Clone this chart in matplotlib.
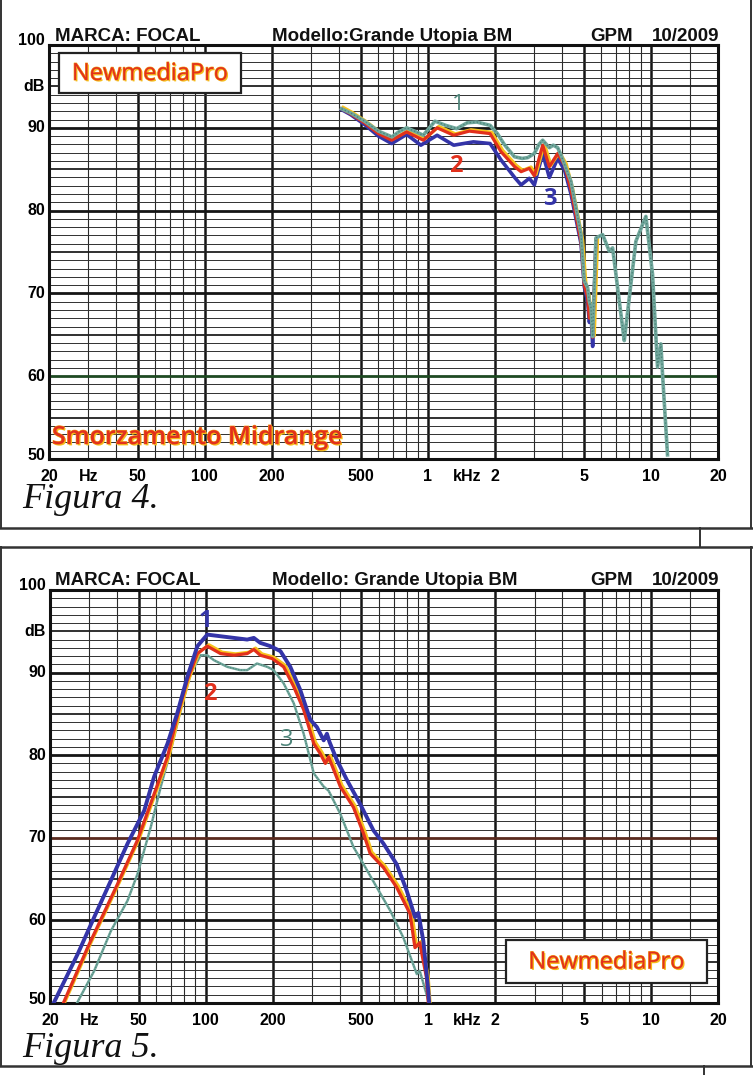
import numpy as np
import matplotlib
matplotlib.use('Agg')
import matplotlib.pyplot as plt
from matplotlib import patheffects as pe
from matplotlib.lines import Line2D
from matplotlib.patches import Rectangle

W, H = 753, 1075

# ---------------- data: Figura 4 (Smorzamento Midrange) ----------------
f4_freq_1 = [410, 450, 520, 600, 690, 740, 803, 870, 954, 1076, 1200, 1346, 1500, 1655, 1901,
             2050, 2200, 2444, 2650, 2804, 3003, 3150, 3272, 3400, 3505, 3650, 3820, 3954,
             4384, 4861, 5029, 5204, 5300, 5387, 5482, 5673, 6076, 6507, 6735, 7468, 7598,
             8567, 9497, 10175, 10713, 11087, 11277, 11875]
f4_db_1 = [92.3, 91.8, 90.8, 89.6, 88.9, 89.5, 90.0, 89.6, 89.1, 90.8, 90.3, 89.9, 90.6, 90.7, 90.3,
           89.3, 88.0, 86.5, 86.3, 86.4, 86.9, 88.0, 88.5, 88.0, 87.6, 87.9, 87.6, 86.7,
           83.5, 77.1, 71.5, 70.7, 69.0, 68.3, 64.8, 76.7, 77.1, 75.1, 75.5, 65.9, 64.3,
           76.3, 79.3, 72.3, 61.1, 63.9, 60.3, 50.5]

f4_freq_2 = [410, 450, 520, 600, 688, 803, 954, 1100, 1306, 1533, 1901, 2130, 2450, 2618, 2850,
             3003, 3272, 3505, 3820, 4100, 4384, 4861, 5029, 5204, 5300, 5387, 5482, 5673]
f4_db_2 = [92.3, 91.7, 90.6, 89.3, 88.5, 89.5, 88.5, 90.0, 89.1, 89.6, 89.3, 87.1, 85.3, 84.7, 85.1,
           84.2, 87.9, 85.3, 86.9, 85.5, 82.5, 76.3, 71.0, 69.5, 67.0, 68.5, 64.7, 76.5]

f4_freq_3 = [410, 450, 520, 600, 688, 803, 930, 1100, 1306, 1600, 1901, 2130, 2450, 2618, 2850,
             3003, 3272, 3505, 3820, 4100, 4384, 4861, 5029, 5204, 5300, 5387, 5482, 5673]
f4_db_3 = [92.2, 91.6, 90.4, 89.0, 88.1, 89.2, 87.9, 89.1, 87.9, 88.3, 88.1, 86.1, 84.0, 83.1, 83.9,
           83.1, 86.9, 84.0, 86.3, 84.9, 82.0, 76.0, 70.8, 69.0, 66.5, 68.0, 63.6, 76.4]

# ---------------- data: Figura 5 ----------------
f5_freq_1 = [20.6, 26.6, 31.6, 37.5, 44.6, 53, 58.7, 67.4, 74.6, 82.8, 91.8, 101.7, 116.7, 134,
             153.7, 164.6, 176, 195.4, 216.7, 240, 266, 295, 316, 339, 350.5, 360, 388.8, 431,
             494, 567, 629, 721, 800, 871, 902, 950, 1000, 1010]
f5_db_1 = [49.8, 55.9, 60.4, 64.8, 69.3, 73.3, 77.4, 81.4, 85.1, 89.5, 93.2, 94.6, 94.4, 94.2,
           94.0, 94.2, 93.6, 93.2, 92.6, 90.7, 87.9, 84.3, 83.4, 81.8, 82.6, 81.6, 79.4, 77.0,
           74.1, 70.9, 69.3, 66.8, 63.6, 60.4, 60.9, 57.5, 51.5, 49.8]

f5_freq_2 = [22.8, 29.5, 40.2, 49.4, 58.7, 67.4, 74.6, 82.8, 91.8, 101.7, 116.7, 134, 153.7, 164.6,
             176, 199, 224, 248.6, 275.6, 306, 327, 345, 356.6, 402.6, 461, 512, 548, 629, 721,
             828, 871, 915, 981, 1000]
f5_db_2 = [49.8, 56.7, 64.4, 69.7, 75.3, 79.8, 84.7, 89.1, 92.3, 93.2, 92.3, 92.1, 92.3, 92.8,
           92.1, 91.7, 90.7, 88.3, 85.5, 81.4, 80.2, 79.0, 79.8, 76.2, 73.7, 70.5, 68.1, 66.4, 64.0,
           60.8, 56.7, 57.3, 53.1, 50.0]

f5_freq_3 = [26.2, 31.6, 37.5, 44.6, 49.4, 56.7, 62.9, 69.7, 77.3, 85.7, 95, 101.7, 109, 125, 143,
             153.7, 170, 189, 202, 224, 248.6, 275.6, 306, 339, 356.6, 402.6, 461, 512, 587, 674,
             773, 888, 915, 981, 1010]
f5_db_3 = [49.8, 53.9, 58.7, 62.4, 65.6, 71.3, 76.2, 80.6, 85.5, 89.9, 92.1, 92.1, 91.5, 90.7, 90.3,
           90.3, 91.1, 90.7, 90.3, 88.7, 86.3, 82.6, 77.8, 76.2, 75.7, 72.9, 68.9, 66.8, 64.0, 61.2,
           57.9, 53.5, 53.9, 51.1, 49.8]

x_tick_freqs = [20, 30, 50, 100, 200, 500, 1000, 1500, 2000, 5000, 10000, 20000]
x_tick_labels = ['20', 'Hz', '50', '100', '200', '500', '1', 'kHz', '2', '5', '10', '20']
y_tick_vals = [100, 95, 90, 80, 70, 60, 50]
y_tick_labels = ['100', 'dB', '90', '80', '70', '60', '50']

thick_v = [50, 100, 200, 500, 1000, 2000, 5000, 10000]
thin_v = [30, 40, 60, 70, 80, 90, 300, 400, 600, 700, 800, 900,
          3000, 4000, 6000, 7000, 8000, 9000, 15000]

C_BLUE = '#3434a8'
C_RED = '#e2301c'
C_YEL = '#f7c21c'
C_TEAL = '#72a89d'
C_TEAL_D = '#4d8479'

SANS = ['Liberation Sans', 'DejaVu Sans']

fig = plt.figure(figsize=(W / 100, H / 100), dpi=100)
fig.patch.set_facecolor('white')


def fx(x):
    return x / W


def fy(y):
    return 1 - y / H


def make_axes(x0, y0, x1, y1, special_line=None):
    ax = fig.add_axes([fx(x0), fy(y1), fx(x1) - fx(x0), fy(y0) - fy(y1)])
    ax.set_xscale('log')
    ax.set_xlim(20, 20000)
    ax.set_ylim(50, 100)
    for v in thin_v:
        ax.axvline(v, color='#2a2a2a', lw=0.8, zorder=1)
    for v in thick_v:
        ax.axvline(v, color='#151515', lw=1.8, zorder=1)
    for d in range(51, 100):
        if d % 10 == 0:
            c = '#151515'
            if special_line and d == special_line[0]:
                c = special_line[1]
            ax.axhline(d, color=c, lw=2.0, zorder=1)
        elif d % 5 == 0:
            ax.axhline(d, color='#202020', lw=1.3, zorder=1)
        else:
            ax.axhline(d, color='#303030', lw=0.7, zorder=1)
    for s in ax.spines.values():
        s.set_linewidth(2.2)
        s.set_color('#111111')
    ax.xaxis.set_minor_locator(matplotlib.ticker.NullLocator())
    ax.set_xticks(x_tick_freqs)
    ax.set_xticklabels(x_tick_labels, fontsize=11.5, fontweight='bold', family=SANS)
    ax.tick_params(axis='x', length=0, pad=7)
    ax.set_yticks([])
    for v, lab in zip(y_tick_vals, y_tick_labels):
        yy = v
        if v == 100:
            yy = 100.5
        elif v == 50:
            yy = 50.4
        ax.text(-0.006, yy, lab, transform=ax.get_yaxis_transform(), ha='right', va='center',
                fontsize=11.5, fontweight='bold', family=SANS, clip_on=False)
    return ax


def header(ybase, model):
    kw = dict(fontsize=13.5, fontweight='bold', family=SANS, va='baseline', color='#111111')
    fig.text(fx(55), fy(ybase), 'MARCA: FOCAL', ha='left', **kw)
    fig.text(fx(272), fy(ybase), model, ha='left', **kw)
    fig.text(fx(590), fy(ybase), 'GPM', ha='left', **kw)
    fig.text(fx(719), fy(ybase), '10/2009', ha='right', **kw)


TEXT_FX = [pe.withSimplePatchShadow(offset=(1.0, -1.0), shadow_rgbFace='#f6c01e', alpha=1.0),
           pe.Stroke(linewidth=0.8, foreground='#f3a21a'), pe.Normal()]


def logo(x0, y0, x1, y1):
    fig.patches.append(Rectangle((fx(x0), fy(y1)), fx(x1) - fx(x0), fy(y0) - fy(y1),
                                 transform=fig.transFigure, fc='white', ec='#222222',
                                 lw=1.6, zorder=5))
    t = fig.text(fx((x0 + x1) / 2), fy((y0 + y1) / 2 + 1), 'NewmediaPro', ha='center',
                 va='center', fontsize=17, color=C_RED, family=['Open Sans', 'DejaVu Sans'],
                 zorder=6)
    t.set_path_effects(TEXT_FX)


def red_line(ax, x, y, lw=2.3):
    ax.plot(x, y, color=C_RED, lw=lw, zorder=3.1,
            path_effects=[pe.Stroke(linewidth=lw, foreground=C_YEL, offset=(1.2, 1.0)),
                          pe.Normal()])


# ---------------- Figura 4 ----------------
ax1 = make_axes(49, 45, 718, 459, special_line=(60, '#1e4a22'))
ax1.plot(f4_freq_3, f4_db_3, color=C_BLUE, lw=2.6, zorder=3)
red_line(ax1, f4_freq_2, f4_db_2)
ax1.plot(f4_freq_1, f4_db_1, color=C_TEAL, lw=2.6, zorder=4)
ax1.plot(f4_freq_1, f4_db_1, color=C_TEAL_D, lw=1.0, ls=(0, (1, 1.5)), zorder=4.1)
header(41, 'Modello:Grande Utopia BM')
logo(59, 53, 241, 93)
t = fig.text(fx(52), fy(444), 'Smorzamento Midrange', ha='left', va='baseline', fontsize=18,
             color=C_RED, family=['Open Sans', 'DejaVu Sans'], fontweight='semibold')
t.set_path_effects(TEXT_FX)
fig.text(fx(458), fy(105), '1', ha='center', va='center', fontsize=16, color=C_TEAL_D,
         family=['Open Sans', 'DejaVu Sans'])
fig.text(fx(456), fy(166), '2', ha='center', va='center', fontsize=17, color=C_RED,
         fontweight='bold', family=['Open Sans', 'DejaVu Sans'])
fig.text(fx(550), fy(199), '3', ha='center', va='center', fontsize=17, color=C_BLUE,
         fontweight='bold', family=['Open Sans', 'DejaVu Sans'])
fig.text(fx(22), fy(508), 'Figura 4.', ha='left', va='baseline', fontsize=26, style='italic',
         family=['Liberation Serif', 'DejaVu Serif'], color='#111111')

# ---------------- Figura 5 ----------------
ax2 = make_axes(50, 590, 718, 1003, special_line=(70, '#5a2a1e'))
ax2.plot(f5_freq_3, f5_db_3, color=C_TEAL, lw=1.8, zorder=3)
ax2.plot(f5_freq_3, f5_db_3, color=C_TEAL_D, lw=0.8, ls=(0, (1, 1.5)), zorder=3.05)
red_line(ax2, f5_freq_2, f5_db_2, lw=2.3)
ax2.plot(f5_freq_1, f5_db_1, color=C_BLUE, lw=2.8, zorder=3.2)
header(585, 'Modello: Grande Utopia BM')
logo(506, 940, 707, 983)
fig.text(fx(205), fy(621), '1', ha='center', va='center', fontsize=17, color=C_BLUE,
         fontweight='bold', family=['Open Sans', 'DejaVu Sans'])
fig.text(fx(210), fy(694), '2', ha='center', va='center', fontsize=17, color=C_RED,
         fontweight='bold', family=['Open Sans', 'DejaVu Sans'])
fig.text(fx(287), fy(740), '3', ha='center', va='center', fontsize=17, color=C_TEAL_D,
         family=['Open Sans', 'DejaVu Sans'])
fig.text(fx(22), fy(1057), 'Figura 5.', ha='left', va='baseline', fontsize=26, style='italic',
         family=['Liberation Serif', 'DejaVu Serif'], color='#111111')

# ---------------- page borders ----------------
def seg(x0, y0, x1, y1, lw=1.4, c='#333333'):
    fig.add_artist(Line2D([fx(x0), fx(x1)], [fy(y0), fy(y1)], transform=fig.transFigure,
                          color=c, lw=lw))

seg(1, 0, 1, 528)
seg(751, 0, 751, 528)
seg(0, 528, 753, 528, lw=1.8)
seg(700, 528, 700, 547)
seg(0, 547, 753, 547, lw=1.8)
seg(1, 547, 1, 1066)
seg(751, 547, 751, 1066)
seg(0, 1066, 753, 1066, lw=1.8)
seg(704, 1066, 704, 1075)

fig.savefig('out.png', dpi=100, facecolor='white')
